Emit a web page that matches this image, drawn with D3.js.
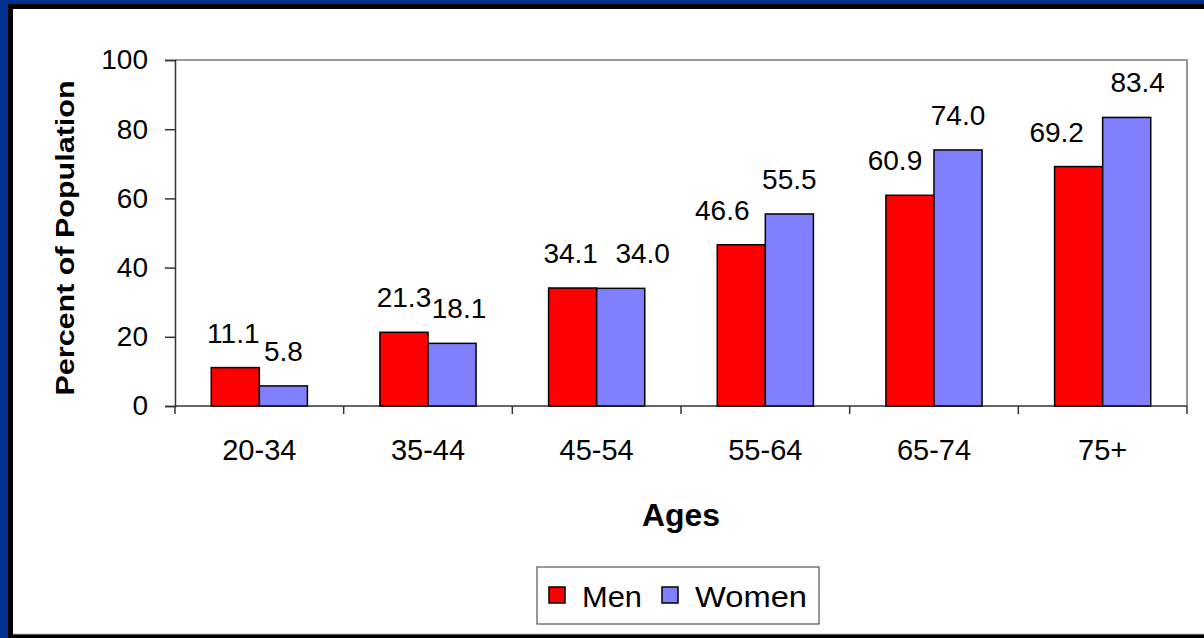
<!DOCTYPE html>
<html>
<head>
<meta charset="utf-8">
<script src="https://cdn.jsdelivr.net/npm/d3@7"></script>
<style>
  body { margin: 0; background: #00318f; }
  svg { display: block; }
  text { font-family: "Liberation Sans", Arial, sans-serif; fill: #000; }
</style>
</head>
<body>
<svg id="chart" width="1204" height="638"></svg>
<script>
// data
var ages = ["20-34", "35-44", "45-54", "55-64", "65-74", "75+"];
var men = [11.1, 21.3, 34.1, 46.6, 60.9, 69.2];
var women = [5.8, 18.1, 34.0, 55.5, 74.0, 83.4];
var yTicks = [0, 20, 40, 60, 80, 100];
var seriesNames = ["Men", "Women"];
var seriesColors = ["#ff0000", "#8080ff"];

// label nudges (px) so the value labels sit where the original put them
var menNudge = [-2, 0, -2, -19, -15, -22];
var womenNudge = [0, 7, 22, 0, 0, 11];

var svg = d3.select("#chart");

// frame: blue bg, black edge, white panel
svg.append("rect").attr("x", 0).attr("y", 0).attr("width", 1204).attr("height", 638).attr("fill", "#00318f");
svg.append("rect").attr("x", 8).attr("y", 4).attr("width", 1196).attr("height", 634).attr("fill", "#000");
svg.append("rect").attr("x", 13).attr("y", 9).attr("width", 1191).attr("height", 625).attr("fill", "#fff");
svg.append("line").attr("x1", 13).attr("x2", 1204).attr("y1", 634).attr("y2", 634).attr("stroke", "#bbb").attr("stroke-width", 1);

var pLeft = 175, pRight = 1187, pTop = 60, pBottom = 406;

var x = d3.scaleBand().domain(ages).range([pLeft, pRight]).paddingInner(0.43).paddingOuter(0.215);
var xCat = d3.scaleBand().domain(ages).range([pLeft, pRight]);
var xs = d3.scaleBand().domain(seriesNames).range([0, x.bandwidth()]);
var y = d3.scaleLinear().domain([0, 100]).range([pBottom, pTop]);

// plot area border (gray top/right)
svg.append("path")
  .attr("d", "M" + pLeft + "," + pTop + "H" + pRight + "V" + pBottom)
  .attr("fill", "none").attr("stroke", "#999").attr("stroke-width", 2);

// y axis
var yAxis = svg.append("g").attr("transform", "translate(" + pLeft + ",0)")
  .call(d3.axisLeft(y).tickValues(yTicks).tickSize(10).tickPadding(17).tickFormat(d3.format("d")));
yAxis.select(".domain").attr("stroke", "#333").attr("stroke-width", 1.5);
yAxis.selectAll(".tick line").attr("stroke", "#333").attr("stroke-width", 1.5);
yAxis.selectAll("text").style("font-family", "Liberation Sans, Arial, sans-serif").style("font-size", "28px").attr("fill", "#000");

// x axis with ticks at category boundaries
var xg = svg.append("g");
xg.append("line").attr("x1", pLeft).attr("x2", pRight).attr("y1", pBottom).attr("y2", pBottom).attr("stroke", "#333").attr("stroke-width", 1.5);
var bounds = ages.map(function(a) { return xCat(a); }).concat([pRight]);
xg.selectAll(".xt").data(bounds).enter().append("line")
  .attr("x1", function(d) { return d; }).attr("x2", function(d) { return d; })
  .attr("y1", pBottom).attr("y2", pBottom + 8).attr("stroke", "#333").attr("stroke-width", 1.5);
xg.selectAll(".xl").data(ages).enter().append("text")
  .attr("x", function(d) { return xCat(d) + xCat.bandwidth() / 2; })
  .attr("y", 460).attr("text-anchor", "middle").style("font-size", "29px")
  .text(function(d) { return d; });

// bars
var rows = [];
ages.forEach(function(a, i) {
  rows.push({ age: a, s: "Men", v: men[i], c: seriesColors[0], dx: menNudge[i] });
  rows.push({ age: a, s: "Women", v: women[i], c: seriesColors[1], dx: womenNudge[i] });
});
svg.selectAll(".bar").data(rows).enter().append("rect")
  .attr("x", function(d) { return x(d.age) + xs(d.s); })
  .attr("y", function(d) { return y(d.v); })
  .attr("width", xs.bandwidth())
  .attr("height", function(d) { return pBottom - y(d.v); })
  .attr("fill", function(d) { return d.c; })
  .attr("stroke", "#000").attr("stroke-width", 1.5);

svg.selectAll(".lbl").data(rows).enter().append("text")
  .attr("x", function(d) { return x(d.age) + xs(d.s) + xs.bandwidth() / 2 + d.dx; })
  .attr("y", function(d) { return y(d.v) - 25; })
  .attr("text-anchor", "middle").style("font-size", "28px")
  .text(function(d) { return d.v.toFixed(1); });

// axis titles
svg.append("text").attr("transform", "translate(74,238) rotate(-90)")
  .attr("text-anchor", "middle").style("font-size", "26px").style("font-weight", "bold")
  .attr("textLength", 315).attr("lengthAdjust", "spacingAndGlyphs")
  .text("Percent of Population");
svg.append("text").attr("x", 681).attr("y", 526).attr("text-anchor", "middle")
  .style("font-size", "31px").style("font-weight", "bold")
  .attr("textLength", 78).attr("lengthAdjust", "spacingAndGlyphs").text("Ages");

// legend
var lg = svg.append("g");
lg.append("rect").attr("x", 537).attr("y", 567).attr("width", 282).attr("height", 57)
  .attr("fill", "#fff").attr("stroke", "#333").attr("stroke-width", 1);
var legX = [549, 662];
seriesNames.forEach(function(n, i) {
  lg.append("rect").attr("x", legX[i]).attr("y", 587).attr("width", 16).attr("height", 16)
    .attr("fill", seriesColors[i]).attr("stroke", "#000").attr("stroke-width", 1.5);
  lg.append("text").attr("x", legX[i] + 33).attr("y", 607).style("font-size", "30px")
    .attr("textLength", i === 0 ? 60 : 112).attr("lengthAdjust", "spacingAndGlyphs").text(n);
});
</script>
</body>
</html>
